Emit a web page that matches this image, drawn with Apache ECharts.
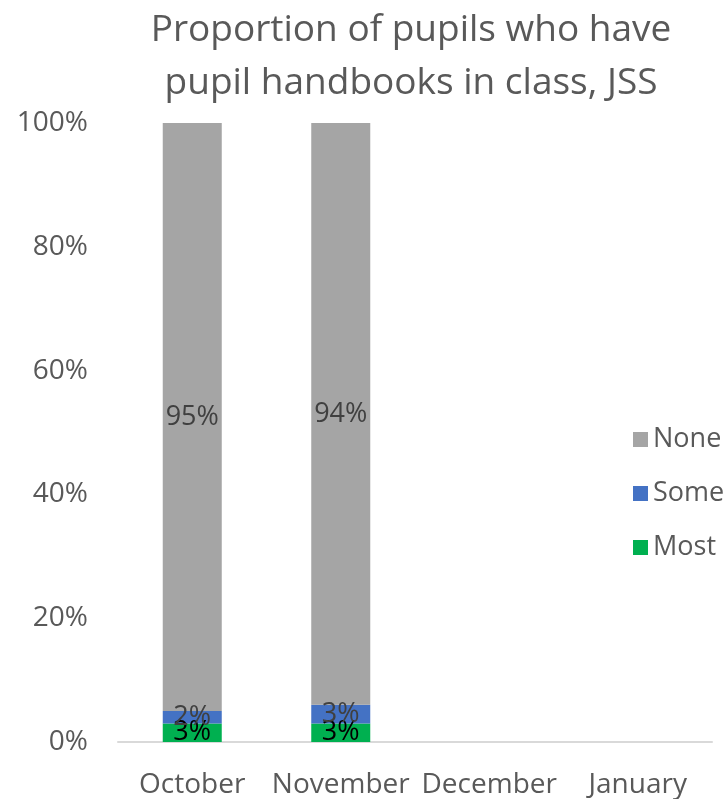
<!DOCTYPE html>
<html><head><meta charset="utf-8">
<script src="https://cdn.jsdelivr.net/npm/echarts@6/dist/echarts.min.js"></script>
<style>html,body{margin:0;padding:0;background:#fff}#c{width:728px;height:799px}</style>
</head><body><div id="c"></div>
<script>
const categories = ["October", "November", "December", "January"];
const most = [3, 3, null, null];
const some = [2, 3, null, null];
const none = [95, 94, null, null];
const yTicks = [0, 20, 40, 60, 80, 100];

const chart = echarts.init(document.getElementById('c'));
const font = '"Open Sans", "Liberation Sans", sans-serif';
function lbl(color) {
  return { show: true, position: 'inside', color: color, fontSize: 27, fontFamily: font,
    formatter: p => p.value == null ? '' : p.value + '%' };
}
chart.setOption({
  animation: false,
  title: {
    text: 'Proportion of pupils who have\npupil handbooks in class, JSS',
    left: 406, top: -1, textAlign: 'center',
    textStyle: { fontSize: 37, fontWeight: 'normal', color: '#595959', fontFamily: font, lineHeight: 53 }
  },
  legend: {
    orient: 'vertical', left: 628, top: 421, itemGap: 27, itemWidth: 15, itemHeight: 15,
    icon: 'rect', data: ['None', 'Some', 'Most'],
    textStyle: { fontSize: 27, color: '#595959', fontFamily: font }
  },
  grid: { left: 118, right: 16, top: 123, bottom: 56 },
  xAxis: {
    type: 'category', data: categories,
    axisLine: { lineStyle: { color: '#d9d9d9', width: 2 } },
    axisTick: { show: false },
    axisLabel: { fontSize: 28, color: '#595959', fontFamily: font, margin: 29, interval: 0 }
  },
  yAxis: {
    type: 'value', min: 0, max: 100, interval: 20,
    axisLine: { show: false }, axisTick: { show: false }, splitLine: { show: false },
    axisLabel: { fontSize: 28, color: '#595959', fontFamily: font, margin: 30, formatter: v => yTicks.includes(v) ? v + '%' : '' }
  },
  series: [
    { name: 'Most', type: 'bar', stack: 't', data: most, barWidth: 59, itemStyle: { color: '#00b050' }, label: lbl('#000000') },
    { name: 'Some', type: 'bar', stack: 't', data: some, itemStyle: { color: '#4472c4' }, label: lbl('#404040') },
    { name: 'None', type: 'bar', stack: 't', data: none, itemStyle: { color: '#a5a5a5' }, label: lbl('#404040') }
  ]
});
</script></body></html>
